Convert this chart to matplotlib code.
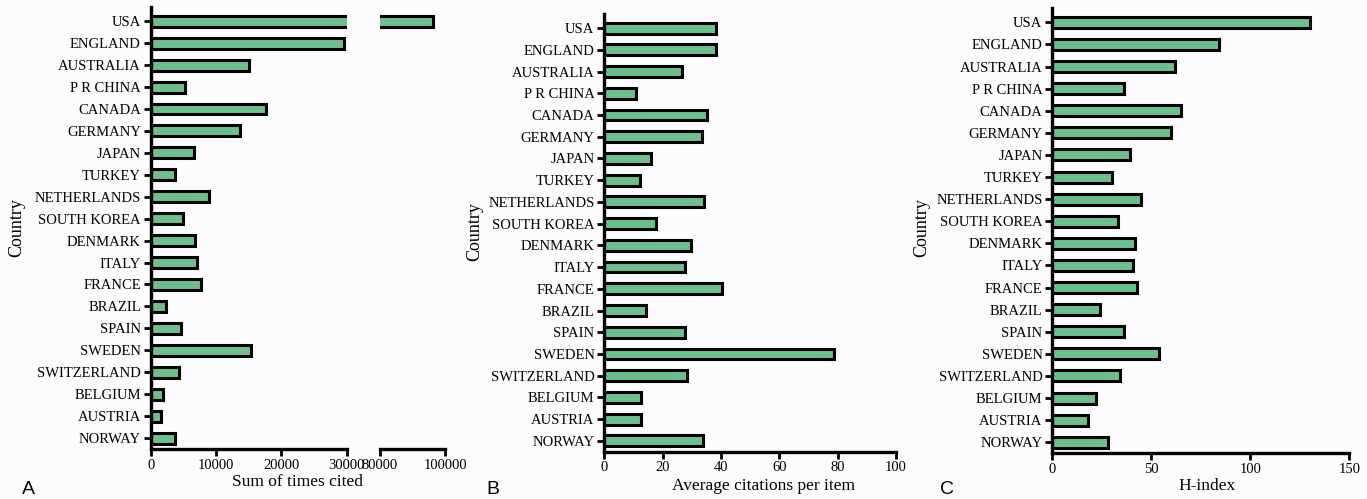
import matplotlib
matplotlib.use("Agg")
import matplotlib.pyplot as plt
import numpy as np

countries = ["USA", "ENGLAND", "AUSTRALIA", "P R CHINA", "CANADA", "GERMANY",
             "JAPAN", "TURKEY", "NETHERLANDS", "SOUTH KOREA", "DENMARK", "ITALY",
             "FRANCE", "BRAZIL", "SPAIN", "SWEDEN", "SWITZERLAND", "BELGIUM",
             "AUSTRIA", "NORWAY"]
times_cited = [96300, 29650, 15100, 5250, 17600, 13600, 6630, 3670, 8880, 4900,
               6790, 7140, 7650, 2300, 4600, 15400, 4380, 1840, 1580, 3770]
avg_citations = [38.3, 38.3, 26.7, 10.7, 35.2, 33.6, 16.0, 12.3, 34.3, 17.7,
                 29.8, 27.8, 40.2, 14.2, 27.8, 78.9, 28.2, 12.7, 12.7, 33.9]
h_index = [130, 84, 62, 36, 65, 60, 39, 30, 45, 33,
           42, 41, 43, 24, 36, 54, 34, 22, 18, 28]

BAR_COLOR = "#6cc08c"
W, H = 1367, 499
plt.rcParams["font.family"] = "Liberation Serif"

fig = plt.figure(figsize=(W / 100, H / 100), dpi=100)
fig.patch.set_facecolor("#fcfcfe")


def new_ax(x0, x1, y0, y1):
    # pixel coords -> figure fraction (y from top)
    return fig.add_axes([x0 / W, 1 - y1 / H, (x1 - x0) / W, (y1 - y0) / H])


def style(ax, left=True):
    ax.set_facecolor("none")
    for s in ["top", "right"]:
        ax.spines[s].set_visible(False)
    ax.spines["bottom"].set_linewidth(2.4)
    ax.spines["left"].set_linewidth(2.4)
    ax.spines["left"].set_visible(left)
    ax.tick_params(axis="both", width=2, length=5, labelsize=10.5, pad=2)


def bars(ax, values):
    y = np.arange(len(countries))
    ax.barh(y, values, height=0.5, color=BAR_COLOR, edgecolor="black", linewidth=2.2)
    ax.set_ylim(len(countries) - 0.5, -0.65)
    ax.set_yticks(y)
    ax.set_yticklabels(countries)


# Panel A (broken axis)
axA1 = new_ax(150.7, 346.7, 7, 449)
bars(axA1, times_cited)
axA1.set_xlim(0, 30000)
axA1.set_xticks([0, 10000, 20000, 30000])
style(axA1)

axA2 = new_ax(380, 445.3, 7, 449)
bars(axA2, times_cited)
axA2.set_xlim(80000, 100000)
axA2.set_xticks([80000, 100000])
style(axA2, left=False)
axA2.set_yticks([])
axA2.spines["bottom"].set_bounds(80000, 100000)

fig.text(298 / W, 1 - 482 / H, "Sum of times cited", ha="center", va="center", fontsize=12.5)
fig.text(17 / W, 1 - 228 / H, "Country", rotation=90, ha="center", va="center", fontsize=13)
fig.text(28 / W, 1 - 490 / H, "A", ha="center", va="center", fontsize=14, family="Liberation Sans")

# Panel B
axB = new_ax(604.3, 896, 14, 451.7)
bars(axB, avg_citations)
axB.set_xlim(0, 100)
axB.set_xticks([0, 20, 40, 60, 80, 100])
style(axB)
fig.text(763 / W, 1 - 486 / H, "Average citations per item", ha="center", va="center", fontsize=12.5)
fig.text(475 / W, 1 - 232 / H, "Country", rotation=90, ha="center", va="center", fontsize=13)
fig.text(493 / W, 1 - 490 / H, "B", ha="center", va="center", fontsize=14, family="Liberation Sans")

# Panel C
axC = new_ax(1052.3, 1349.3, 8, 453.3)
bars(axC, h_index)
axC.set_xlim(0, 150)
axC.set_xticks([0, 50, 100, 150])
style(axC)
fig.text(1207 / W, 1 - 486 / H, "H-index", ha="center", va="center", fontsize=12.5)
fig.text(922 / W, 1 - 228 / H, "Country", rotation=90, ha="center", va="center", fontsize=13)
fig.text(947 / W, 1 - 490 / H, "C", ha="center", va="center", fontsize=14, family="Liberation Sans")

fig.savefig("out.png", dpi=100, facecolor=fig.get_facecolor())
